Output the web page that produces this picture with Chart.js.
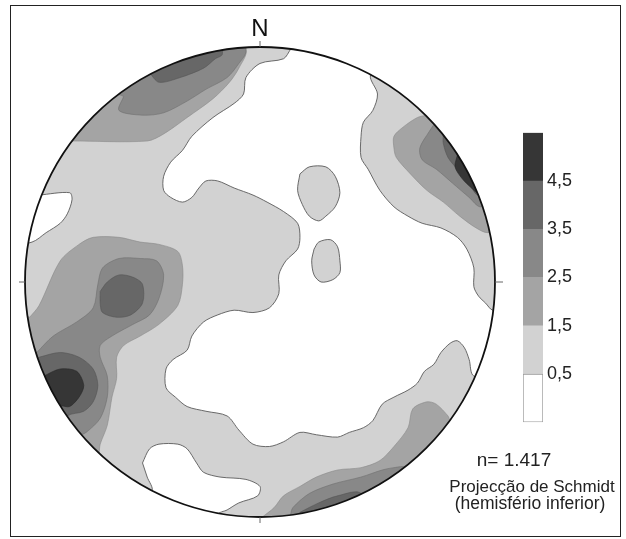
<!DOCTYPE html>
<html>
<head>
<meta charset="utf-8">
<script src="https://cdn.jsdelivr.net/npm/chart.js@4.4.1/dist/chart.umd.min.js"></script>
<style>
  body { margin: 0; background: #fff; font-family: "Liberation Sans", Arial, sans-serif; color: #222; }
  #frame { position: absolute; left: 10px; top: 5px; width: 609px; height: 530px; border: 1.5px solid #222; }
  #net { position: absolute; left: 11px; top: 6px; }
  #bar { position: absolute; left: 523px; top: 118px; }
  .txt { position: absolute; width: 184px; text-align: center; line-height: 1; white-space: nowrap; }
</style>
</head>
<body>
<div id="frame"></div>
<canvas id="net" width="610" height="531"></canvas>
<canvas id="bar" width="60" height="319"></canvas>
<div class="txt" style="left:422px; top:450px; font-size:19px;">n= 1.417</div>
<div class="txt" style="left:440px; top:478px; font-size:17px;">Projecção de Schmidt</div>
<div class="txt" style="left:438px; top:495px; font-size:17.5px;">(hemisfério inferior)</div>
<script>
// densidade (%), projeccao de Schmidt, raio = 100
const levelColors = ['#ffffff', '#d2d2d2', '#a4a4a4', '#888888', '#676767', '#363636'];
const bandEdges = [-0.5, 0.5, 1.5, 2.5, 3.5, 4.5, 5.5];
const tickValues = [0.5, 1.5, 2.5, 3.5, 4.5];
const tickLabels = ['0,5', '1,5', '2,5', '3,5', '4,5'];

// zonas < 0,5
const whiteMain = [[13,99],[15,112],[40,110],[56,103],[47,88],
  [50,80],[48,73],[44,68],[43,62],[43,53],[46,48],[51,39],[57,32],[63,28],[69,25],[77,23],[84,19],[88,14],[91,6],[91,-2],[93,-6],[96,-9],[99,-12],
  [112,-14],[108,-42],[91,-40],
  [89,-33],[87,-28],[84,-25],[81,-26],[77,-30],[74,-35],[70,-38],[67,-43],[63,-46],[57,-49],[52,-52],[48,-59],[44,-62],[38,-64],[33,-66],[24,-65],[17,-64],[10,-68],[4,-70],
  [-3,-69],[-9,-63],[-14,-57],[-23,-55],[-31,-53],[-36,-49],[-40,-45],[-40,-37],[-37,-33],[-31,-29],[-29,-23],[-24,-17],[-18,-14],[-11,-12],[-3,-13],[4,-11],[8,-5],[8,3],[11,9],[16,14],[17,19],[16,25],[10,30],[3,34],[-3,37],[-11,40],[-18,43],[-23,43],[-26,40],[-29,36],[-33,34],[-38,36],[-41,39],[-41,45],[-38,51],[-33,56],[-29,62],[-20,70],[-11,76],[-7,80],[-6,87],[0,93],[10,95]];
const whiteNW = [[-94,37],[-81,38],[-80,35],[-82,29],[-85,25],[-91,21],[-97,17],[-112,15],[-110,42]];
const whiteSW = [[-50,-77],[-47,-71],[-43,-69],[-35,-69],[-31,-71],[-27,-77],[-24,-81],[-17,-83],[-6,-84],[0,-87],[-1,-91],[-9,-94],[-14,-97],[-18,-99],[-20,-114],[-58,-100],[-46,-89],[-48,-83]];

// ilhas 0,5 - 1,5 dentro da zona branca
const islandA = [[17,46],[21,49],[28,49],[32,45],[34,38],[32,32],[28,28],[25,26],[21,28],[18,33],[16,39]];
const islandB = [[23,14],[25,17],[30,18],[33,15],[34,9],[34,4],[31,1],[26,0],[23,3],[22,9]];

// maximos NW
const nw2 = [[-80,60],[-92,75],[-60,100],[-20,115],[-6,99],[-9,91],[-13,85],[-20,78],[-31,70],[-41,63],[-48,60]];
const nw3 = [[-58,79],[-60,73],[-50,71],[-41,72],[-31,77],[-23,82],[-14,87],[-9,93],[-6,98],[-8,114],[-50,105],[-74,86]];
const nw4 = [[-47,89],[-43,85],[-34,87],[-24,91],[-19,95],[-16,97],[-18,114],[-55,100]];

// maximos E
const east2 = [[71,71],[67,70],[61,66],[57,62],[57,57],[58,53],[64,46],[71,39],[78,34],[85,28],[92,23],[97,21],[112,25],[105,60],[82,85]];
const east3 = [[74,67],[72,64],[68,57],[69,52],[75,48],[82,42],[89,36],[94,32],[112,38],[95,75]];
const east4 = [[78,63],[78,59],[80,53],[84,48],[89,42],[93,37],[110,45],[95,72]];
const east5 = [[84,54],[83,49],[86,44],[90,40],[93,38],[108,45],[97,62]];

// maximos W
const west2 = [[-98,-15],[-94,-10],[-85,9],[-77,16],[-71,19],[-60,19],[-51,17],[-43,16],[-35,13],[-33,7],[-33,-1],[-35,-10],[-43,-18],[-51,-23],[-58,-27],[-61,-32],[-61,-41],[-63,-49],[-65,-61],[-68,-69],[-69,-74],[-80,-85],[-112,-40],[-112,-10]];
const west3 = [[-95,-30],[-88,-23],[-78,-17],[-71,-11],[-69,-1],[-67,6],[-60,10],[-51,10],[-44,9],[-41,3],[-43,-7],[-47,-14],[-54,-18],[-63,-23],[-68,-27],[-68,-32],[-65,-40],[-65,-49],[-68,-58],[-74,-64],[-78,-66],[-90,-76],[-115,-40]];
const west4a = [[-68,-4],[-65,0],[-60,3],[-54,2],[-50,-1],[-50,-9],[-55,-14],[-61,-15],[-67,-13],[-68,-9]];
const west4b = [[-94,-32],[-85,-30],[-77,-32],[-71,-37],[-69,-44],[-71,-51],[-75,-55],[-82,-57],[-100,-75],[-115,-40]];
const west5 = [[-92,-40],[-85,-37],[-78,-38],[-75,-44],[-77,-49],[-81,-53],[-85,-53],[-100,-65],[-112,-45]];

// maximos S
const south2 = [[1,-100],[6,-96],[10,-91],[17,-87],[24,-83],[33,-80],[43,-79],[51,-76],[57,-70],[63,-62],[65,-54],[71,-51],[75,-52],[80,-57],[81,-59],[95,-72],[60,-105],[15,-115]];
const south3 = [[13,-99],[14,-96],[21,-90],[31,-86],[43,-83],[52,-80],[57,-79],[62,-79],[75,-95],[20,-115]];
const south4 = [[17,-98],[25,-94],[33,-91],[43,-90],[50,-110],[15,-115]];

const layers = [
  [whiteMain, 0], [whiteNW, 0], [whiteSW, 0], [islandA, 1], [islandB, 1],
  [nw2, 2], [east2, 2], [west2, 2], [south2, 2],
  [nw3, 3], [east3, 3], [west3, 3], [south3, 3],
  [nw4, 4], [east4, 4], [west4a, 4], [west4b, 4], [south4, 4],
  [east5, 5], [west5, 5]
];

const edgeColors = ['#5a5a5a', '#5a5a5a', '#8a8a8a', '#707070', '#555555', '#2a2a2a'];

const datasets = layers.map(([pts, lvl], i) => ({
  data: pts.concat([pts[0]]).map(p => ({x: p[0], y: p[1]})),
  backgroundColor: levelColors[lvl],
  borderColor: edgeColors[lvl],
  borderWidth: lvl < 2 ? 0.9 : 0.6,
  fill: 'shape',
  tension: 0.3,
  pointRadius: 0,
  order: layers.length - i
}));

const netPlugin = {
  id: 'net',
  beforeDatasetsDraw(chart) {
    const {ctx, scales: {x, y}} = chart;
    const cx = x.getPixelForValue(0), cy = y.getPixelForValue(0);
    const r = x.getPixelForValue(100) - cx;
    ctx.save();
    ctx.beginPath();
    ctx.arc(cx, cy, r, 0, Math.PI * 2);
    ctx.clip();
    ctx.fillStyle = levelColors[1];
    ctx.fillRect(cx - r, cy - r, 2 * r, 2 * r);
  },
  afterDatasetsDraw(chart) {
    const {ctx, scales: {x, y}} = chart;
    ctx.restore();
    const cx = x.getPixelForValue(0), cy = y.getPixelForValue(0);
    const r = x.getPixelForValue(100) - cx;
    ctx.save();
    ctx.strokeStyle = '#111';
    ctx.lineWidth = 1.8;
    ctx.beginPath();
    ctx.arc(cx, cy, r, 0, Math.PI * 2);
    ctx.stroke();
    // marcas N, E, S, W
    ctx.lineWidth = 1;
    ctx.strokeStyle = '#666';
    ctx.beginPath();
    ctx.moveTo(cx, cy - r); ctx.lineTo(cx, cy - r - 6);
    ctx.moveTo(cx + r, cy); ctx.lineTo(cx + r + 8, cy);
    ctx.moveTo(cx, cy + r); ctx.lineTo(cx, cy + r + 6);
    ctx.moveTo(cx - r, cy); ctx.lineTo(cx - r - 6, cy);
    ctx.stroke();
    ctx.fillStyle = '#111';
    ctx.font = '24px "Liberation Sans", Arial, sans-serif';
    ctx.textAlign = 'center';
    ctx.textBaseline = 'alphabetic';
    ctx.fillText('N', cx, cy - r - 11);
    ctx.restore();
  }
};

new Chart(document.getElementById('net'), {
  type: 'line',
  data: { datasets },
  options: {
    responsive: false,
    animation: false,
    layout: { padding: { left: 14, top: 41, right: 126, bottom: 20 } },
    scales: {
      x: { type: 'linear', min: -100, max: 100, display: false },
      y: { type: 'linear', min: -100, max: 100, display: false }
    },
    plugins: { legend: { display: false }, tooltip: { enabled: false } }
  },
  plugins: [netPlugin]
});

// escala de cores
const bands = levelColors.map((c, i) => ({
  data: [[bandEdges[i], bandEdges[i + 1]]],
  backgroundColor: c,
  borderColor: i === 0 ? '#999' : c,
  borderWidth: i === 0 ? 1 : 0,
  borderSkipped: false,
  grouped: false,
  barPercentage: 1,
  categoryPercentage: 1
}));

new Chart(document.getElementById('bar'), {
  type: 'bar',
  data: { labels: [''], datasets: bands },
  options: {
    responsive: false,
    animation: false,
    layout: { padding: { left: 0, top: 10, bottom: 10, right: 0 } },
    scales: {
      x: { display: false },
      y: {
        position: 'right',
        min: bandEdges[0],
        max: bandEdges[bandEdges.length - 1],
        afterFit: s => { s.width = 40; },
        afterBuildTicks: s => { s.ticks = tickValues.map(v => ({ value: v })); },
        grid: { display: false, drawTicks: false },
        border: { display: false },
        ticks: {
          padding: 4,
          color: '#222',
          font: { size: 18, family: '"Liberation Sans", Arial, sans-serif' },
          callback: (v, i) => tickLabels[i]
        }
      }
    },
    plugins: { legend: { display: false }, tooltip: { enabled: false } }
  }
});
</script>
</body>
</html>
